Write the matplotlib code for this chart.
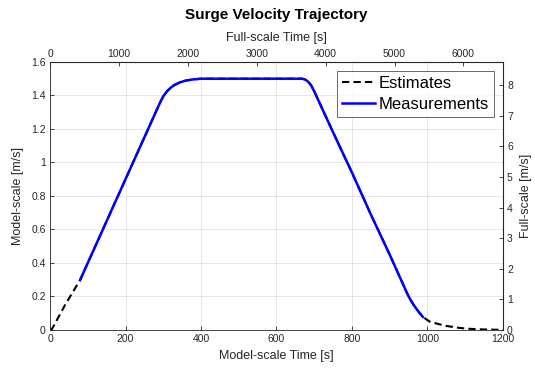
import matplotlib

matplotlib.use("Agg")
import matplotlib.pyplot as plt
import numpy as np

# Froude scaling, 1:30 model -> full scale (time and velocity scale by sqrt(30))
SCALE = np.sqrt(30.0)

# estimated surge velocity, model scale [s], [m/s]
est_t = [0, 5, 40, 80, 150, 200, 250, 280, 290, 300, 310, 320, 330, 345,
         360, 380, 400, 500, 600, 668, 676, 684, 692, 700, 750, 800, 850,
         900, 930, 940, 948, 956, 964, 972, 980, 988, 1006, 1030, 1051,
         1080, 1104, 1140, 1174, 1200]
est_v = [0.0, 0.005, 0.15, 0.30, 0.65, 0.90, 1.15, 1.30, 1.35, 1.395,
         1.425, 1.447, 1.463, 1.479, 1.489, 1.496, 1.50, 1.50, 1.50, 1.50,
         1.495, 1.482, 1.46, 1.425, 1.18, 0.94, 0.69, 0.45, 0.30, 0.25,
         0.21, 0.177, 0.148, 0.123, 0.099, 0.078, 0.05, 0.035, 0.024, 0.014,
         0.008, 0.004, 0.002, 0.001]

# measured surge velocity, model scale
meas_t = [80, 150, 200, 250, 280, 290, 300, 310, 320, 330, 345, 360, 380,
          400, 500, 600, 668, 676, 684, 692, 700, 750, 800, 850, 900, 930,
          940, 948, 956, 964, 972, 980, 988]
meas_v = [0.30, 0.65, 0.90, 1.15, 1.30, 1.35, 1.395, 1.425, 1.447, 1.463,
          1.479, 1.489, 1.496, 1.50, 1.50, 1.50, 1.50, 1.495, 1.482, 1.46,
          1.425, 1.18, 0.94, 0.69, 0.45, 0.30, 0.25, 0.21, 0.177, 0.148,
          0.123, 0.099, 0.078]

x_ticks = [0, 200, 400, 600, 800, 1000, 1200]
y_ticks = [0, 0.2, 0.4, 0.6, 0.8, 1, 1.2, 1.4, 1.6]
y_labels = ["0", "0.2", "0.4", "0.6", "0.8", "1", "1.2", "1.4", "1.6"]
top_ticks = [0, 1000, 2000, 3000, 4000, 5000, 6000]
right_ticks = [0, 1, 2, 3, 4, 5, 6, 7, 8]

AX_COLOR = (0.15, 0.15, 0.15)

plt.rcParams["font.family"] = ["Liberation Sans", "DejaVu Sans"]
plt.rcParams["axes.edgecolor"] = AX_COLOR
plt.rcParams["xtick.color"] = AX_COLOR
plt.rcParams["ytick.color"] = AX_COLOR
plt.rcParams["text.color"] = AX_COLOR
plt.rcParams["axes.labelcolor"] = AX_COLOR


def to_full(x):
    return x * SCALE


def to_model(x):
    return x / SCALE


fig = plt.figure(figsize=(5.35, 3.71), dpi=100)
ax = fig.add_axes([0.0935, 0.1105, 0.8465, 0.7225])

ax.plot(est_t, est_v, color="black", lw=1.5, dashes=(3.5, 2), label="Estimates", zorder=2)
ax.plot(meas_t, meas_v, color=(0, 0, 1), lw=1.8, label="Measurements", zorder=3)

ax.set_xlim(0, 1200)
ax.set_ylim(0, 1.6)
ax.set_xticks(x_ticks)
ax.set_yticks(y_ticks)
ax.set_yticklabels(y_labels)
ax.tick_params(direction="in", length=3, width=0.6, labelsize=7.5, pad=3)
ax.grid(True, color=(0.15, 0.15, 0.15), alpha=0.13, lw=0.6)
for s in ax.spines.values():
    s.set_linewidth(0.6)
ax.set_xlabel("Model-scale Time [s]", fontsize=9, labelpad=4)
ax.set_ylabel("Model-scale [m/s]", fontsize=9, labelpad=5)

top = ax.secondary_xaxis("top", functions=(to_full, to_model))
top.set_xticks(top_ticks)
top.tick_params(direction="in", length=3, width=0.6, labelsize=7.5, pad=2)
top.set_xlabel("Full-scale Time [s]", fontsize=9, labelpad=6)

right = ax.secondary_yaxis("right", functions=(to_full, to_model))
right.set_yticks(right_ticks)
right.tick_params(direction="in", length=3, width=0.6, labelsize=7.5, pad=3)
right.set_ylabel("Full-scale [m/s]", fontsize=9, labelpad=5)

ax.set_title("Surge Velocity Trajectory", fontsize=11, fontweight="bold",
             color="black", pad=31)

leg = ax.legend(loc="upper right", fontsize=12, frameon=True, fancybox=False,
                handlelength=2.0, handletextpad=0.2, borderpad=0.3,
                labelspacing=0.33, borderaxespad=0.55)
leg.get_frame().set_edgecolor(AX_COLOR)
leg.get_frame().set_linewidth(0.6)
for t in leg.get_texts():
    t.set_color("black")

fig.savefig("out.png", dpi=100)
